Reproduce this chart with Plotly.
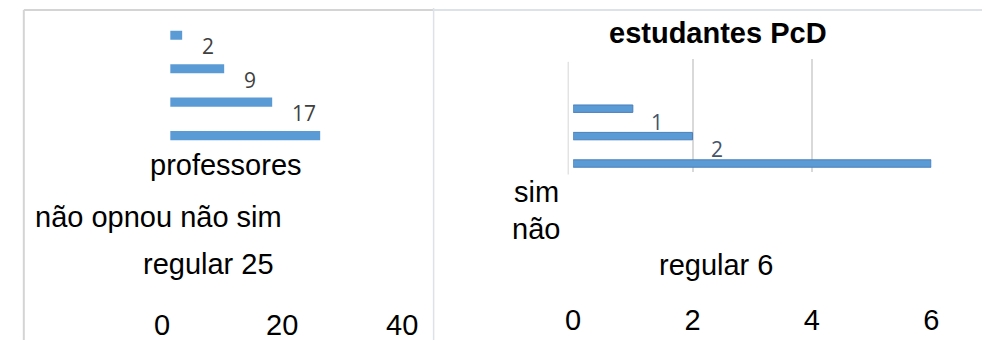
import plotly.graph_objects as go

W, H = 990, 341

# ---- data ----
left_title = "professores"
left_cats = ["não opnou", "não", "sim", "regular"]
left_vals = [2, 9, 17, 25]
left_ticks = [0, 20, 40]

right_title = "estudantes PcD"
right_cats = ["sim", "não", "regular"]
right_vals = [1, 2, 6]
right_ticks = [0, 2, 4, 6]

BLUE = "#5b9bd5"
FONT = "Liberation Sans, Arial, sans-serif"


def px(x):
    return x / W


def py(y):
    return 1 - y / H


fig = go.Figure()

fig.add_trace(go.Bar(
    x=left_vals, y=left_cats, orientation="h", width=0.27,
    marker=dict(color=BLUE, line=dict(width=0)),
    xaxis="x", yaxis="y", showlegend=False, hoverinfo="x+y",
))
fig.add_trace(go.Bar(
    x=right_vals, y=right_cats, orientation="h", width=0.27,
    marker=dict(color=BLUE, line=dict(color="#4a7ebb", width=1)),
    xaxis="x2", yaxis="y2", showlegend=False, hoverinfo="x+y",
))

ann = []
# left value labels (the last value is part of the caption text)
for c, v in zip(left_cats[:-1], left_vals[:-1]):
    ann.append(dict(x=v, y=c, xref="x", yref="y", text=str(v), showarrow=False,
                    xanchor="left", xshift=18, yshift=-11,
                    font=dict(family="Open Sans, sans-serif", size=21, color="#404040")))
# right value labels
for c, v in zip(right_cats[:-1], right_vals[:-1]):
    ann.append(dict(x=v, y=c, xref="x2", yref="y2", text=str(v), showarrow=False,
                    xanchor="center", xshift=24, yshift=-13,
                    font=dict(family="Open Sans, sans-serif", size=21, color="#44546a")))

big = dict(family=FONT, size=29, color="#000000")
# left captions
ann.append(dict(x=px(215), y=py(165), xref="paper", yref="paper", text=left_title,
                showarrow=False, xanchor="center", yanchor="middle", font=big))
ann.append(dict(x=px(17), y=py(218), xref="paper", yref="paper",
                text=" ".join(left_cats[:-1]),
                showarrow=False, xanchor="left", yanchor="middle", font=big))
ann.append(dict(x=px(197), y=py(265), xref="paper", yref="paper",
                text=f"{left_cats[-1]} {left_vals[-1]}",
                showarrow=False, xanchor="center", yanchor="middle", font=big))
# right captions
ann.append(dict(x=px(719), y=py(33), xref="paper", yref="paper",
                text=f"<b>{right_title}</b>",
                showarrow=False, xanchor="center", yanchor="middle",
                font=dict(family=FONT, size=29, color="#000000")))
ann.append(dict(x=px(559), y=py(193), xref="paper", yref="paper", text=right_cats[0],
                showarrow=False, xanchor="right", yanchor="middle", font=big))
ann.append(dict(x=px(506), y=py(230), xref="paper", yref="paper", text=right_cats[1],
                showarrow=False, xanchor="left", yanchor="middle", font=big))
ann.append(dict(x=px(717), y=py(266), xref="paper", yref="paper",
                text=f"{right_cats[2]} {right_vals[2]}",
                showarrow=False, xanchor="center", yanchor="middle", font=big))

shapes = [
    dict(type="line", xref="paper", yref="paper", x0=px(8), x1=px(8), y0=py(10), y1=0,
         line=dict(color="#d4d4d4", width=2)),
    dict(type="line", xref="paper", yref="paper", x0=px(8), x1=px(428), y0=py(10), y1=py(10),
         line=dict(color="#d4d4d4", width=2)),
    dict(type="line", xref="paper", yref="paper", x0=px(428), x1=px(428), y0=py(8), y1=0,
         line=dict(color="#dde1e8", width=1.5)),
    dict(type="line", xref="paper", yref="paper", x0=px(428), x1=1, y0=py(10), y1=py(10),
         line=dict(color="#dde1e8", width=2)),
    # 3D back-wall edge next to the zero gridline
    dict(type="line", xref="paper", yref="paper", x0=px(566), x1=px(566), y0=py(62), y1=py(175),
         line=dict(color="#e3e3e3", width=1.5)),
]

# left axis: 0 at 158px, 6.15 px per unit
lx0, lx1 = 158, 420
fig.update_layout(
    width=W, height=H, margin=dict(l=0, r=0, t=0, b=0),
    paper_bgcolor="white", plot_bgcolor="rgba(0,0,0,0)",
    xaxis=dict(domain=[px(lx0), px(lx1)], range=[0, (lx1 - lx0) / 6.15],
               anchor="free", position=py(306),
               tickvals=left_ticks, ticktext=[str(t) for t in left_ticks],
               tickfont=dict(family=FONT, size=29, color="#000"),
               ticklabelshift=-8,
               showgrid=False, zeroline=False, showline=False, ticks=""),
    yaxis=dict(domain=[py(152.8), py(18.5)], categoryorder="array",
               categoryarray=left_cats, range=[3.5, -0.5],
               showticklabels=False, showgrid=False, zeroline=False, showline=False,
               anchor="x"),
    xaxis2=dict(domain=[px(571), px(938)], range=[0, 6],
                anchor="free", position=py(301),
                tickvals=right_ticks, ticktext=[str(t) for t in right_ticks],
                tickfont=dict(family=FONT, size=29, color="#000"),
                showgrid=True, gridcolor="#d9d9d9", gridwidth=1.5,
                zeroline=False, showline=False, ticks=""),
    yaxis2=dict(domain=[py(173), py(59)], categoryorder="array",
                categoryarray=right_cats, range=[2.327, -1.818],
                showticklabels=False, showgrid=False, zeroline=False, showline=False,
                anchor="x2"),
    annotations=ann, shapes=shapes,
)

fig.write_html("out.html")
